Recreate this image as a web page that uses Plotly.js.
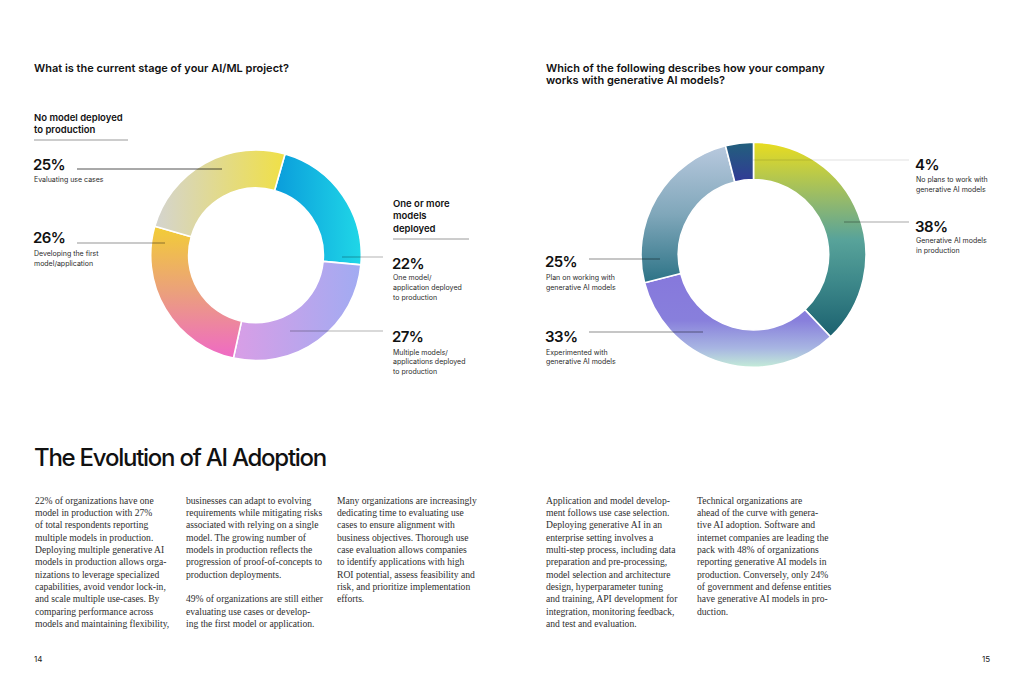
<!DOCTYPE html>
<html><head><meta charset="utf-8">
<script src="https://cdn.plot.ly/plotly-3.0.1.min.js"></script>
<style>html,body{margin:0;padding:0;background:#fff;overflow:hidden}#chart{width:1024px;height:683px}</style>
</head><body><div id="chart"></div>
<script>
// ---- data ----
const stageLabels = ['One model/application deployed to production','Multiple models/applications deployed to production','Developing the first model/application','Evaluating use cases'];
const stageValues = [22, 27, 26, 25];
const stageColors = ['#15bae2', '#bda4ec', '#eca08a', '#e2da8e'];
const genaiLabels = ['Generative AI models in production','Experimented with generative AI models','Plan on working with generative AI models','No plans to work with generative AI models'];
const genaiValues = [38, 33, 25, 4];
const genaiColors = ['#5fa08c', '#9ea6de', '#78a0b4', '#2a4c88'];

const leftTitle = 'What is the current stage of your AI/ML project?';
const rightTitle = ['Which of the following describes how your company', 'works with generative AI models?'];
const pageTitle = 'The Evolution of AI Adoption';

const col1 = ['22% of organizations have one','model in production with 27%','of total respondents reporting','multiple models in production.','Deploying multiple generative AI','models in production allows orga-','nizations to leverage specialized','capabilities, avoid vendor lock-in,','and scale multiple use-cases. By','comparing performance across','models and maintaining flexibility,'];
const col2 = ['businesses can adapt to evolving','requirements while mitigating risks','associated with relying on a single','model. The growing number of','models in production reflects the','progression of proof-of-concepts to','production deployments.','','49% of organizations are still either','evaluating use cases or develop-','ing the first model or application.'];
const col3 = ['Many organizations are increasingly','dedicating time to evaluating use','cases to ensure alignment with','business objectives. Thorough use','case evaluation allows companies','to identify applications with high','ROI potential, assess feasibility and','risk, and prioritize implementation','efforts.'];
const col4 = ['Application and model develop-','ment follows use case selection.','Deploying generative AI in an','enterprise setting involves a','multi-step process, including data','preparation and pre-processing,','model selection and architecture','design, hyperparameter tuning','and training, API development for','integration, monitoring feedback,','and test and evaluation.'];
const col5 = ['Technical organizations are','ahead of the curve with genera-','tive AI adoption. Software and','internet companies are leading the','pack with 48% of organizations','reporting generative AI models in','production. Conversely, only 24%','of government and defense entities','have generative AI models in pro-','duction.'];

// ---- layout helpers ----
const W = 1024, H = 683;
const px = x => x / W, py = y => 1 - y / H;
const SANS = 'Inter, "Noto Sans", sans-serif';
const SERIF = '"Liberation Serif", "DejaVu Serif", serif';
const ann = [];
function T(x, y, text, font, ls) {
  const t = ls ? `<span style="letter-spacing:${ls}px">${text}</span>` : text;
  ann.push({xref:'paper', yref:'paper', x:px(x), y:py(y), xanchor:'left', yanchor:'middle',
    text:t, showarrow:false, borderpad:0, borderwidth:0, font:font});
}
function block(x, y0, dy, lines, font, ls) {
  lines.forEach((l, i) => { if (l) T(x, y0 + i * dy, l, font, ls); });
}
const fTitle = {family:SANS, size:11, color:'#111', weight:600};
const fHead = {family:SANS, size:9.5, color:'#111', weight:600};
const fPct = {family:SANS, size:15, color:'#111', weight:600};
const fSub = {family:SANS, size:7, color:'#2b2b2b', weight:400};
const fBody = {family:SERIF, size:9.6, color:'#2e2e2e'};

const shapes = [];
function L(x0, y0, x1, y1, color, w) {
  shapes.push({type:'line', xref:'paper', yref:'paper', x0:px(x0), y0:py(y0), x1:px(x1), y1:py(y1),
    line:{color:color, width:w || 1}, layer:'above'});
}

// chart titles
T(34, 68, leftTitle, fTitle);
block(546, 68, 12.5, rightTitle, fTitle);

// left chart labels
block(34, 117, 12.5, ['No model deployed', 'to production'], fHead);
L(34, 140, 128, 140, '#9a9a9a', 1);
T(33, 164, stageValues[3] + '%', fPct, -0.6);
T(34, 179.5, 'Evaluating use cases', fSub);
T(33, 238, stageValues[2] + '%', fPct, -0.6);
block(34, 254, 9.8, ['Developing the first', 'model/application'], fSub);
block(393, 203, 12.5, ['One or more', 'models', 'deployed'], fHead);
L(393, 239, 469, 239, '#9a9a9a', 1);
T(392, 263, stageValues[0] + '%', fPct, -0.6);
block(393, 278, 9.8, ['One model/', 'application deployed', 'to production'], fSub);
T(392, 337, stageValues[1] + '%', fPct, -0.6);
block(393, 352, 9.8, ['Multiple models/', 'applications deployed', 'to production'], fSub);

L(77, 169, 222, 169, 'rgba(0,0,0,0.68)', 1);
L(77, 243, 165, 243, 'rgba(0,0,0,0.42)', 1);
L(342, 257, 383, 257, 'rgba(0,0,0,0.2)', 1.3);
L(290, 331, 383, 331, 'rgba(0,0,0,0.2)', 1.3);

// right chart labels
T(915, 164, genaiValues[3] + '%', fPct, -0.6);
block(916, 179.5, 9.8, ['No plans to work with', 'generative AI models'], fSub);
T(915, 226, genaiValues[0] + '%', fPct, -0.6);
block(916, 241, 9.8, ['Generative AI models', 'in production'], fSub);
T(545, 262, genaiValues[2] + '%', fPct, -0.6);
block(546, 278, 9.8, ['Plan on working with', 'generative AI models'], fSub);
T(545, 337, genaiValues[1] + '%', fPct, -0.6);
block(546, 352, 9.8, ['Experimented with', 'generative AI models'], fSub);

L(753, 160, 909, 160, 'rgba(0,0,0,0.12)', 1);
L(844, 222, 909, 222, 'rgba(0,0,0,0.35)', 1);
L(589, 259, 660, 259, 'rgba(0,0,0,0.45)', 1);
L(589, 332, 703, 332, 'rgba(0,0,0,0.45)', 1);

// page heading & body
T(34, 457, pageTitle, {family:SANS, size:24, color:'#111', weight:500}, -1.25);
const dy = 12.35, yb = 500;
block(35, yb, dy, col1, fBody);
block(186, yb, dy, col2, fBody);
block(337, yb, dy, col3, fBody);
block(546, yb, dy, col4, fBody);
block(697, yb, dy, col5, fBody);
T(34, 659, '14', {family:SANS, size:8, color:'#222'});
ann.push({xref:'paper', yref:'paper', x:px(990), y:py(659), xanchor:'right', yanchor:'middle', text:'15',
  showarrow:false, borderpad:0, borderwidth:0, font:{family:SANS, size:8, color:'#222'}});

const data = [
  {type:'pie', labels:stageLabels, values:stageValues, hole:0.64, sort:false, direction:'clockwise', rotation:16,
   textinfo:'none', hoverinfo:'none', showlegend:false,
   marker:{colors:stageColors, line:{color:'#ffffff', width:1.6}},
   domain:{x:[px(150.7), px(361.3)], y:[py(360.6), py(150)]}},
  {type:'pie', labels:genaiLabels, values:genaiValues, hole:0.668, sort:false, direction:'clockwise', rotation:0,
   textinfo:'none', hoverinfo:'none', showlegend:false,
   marker:{colors:genaiColors, line:{color:'#ffffff', width:1.6}},
   domain:{x:[px(641), px(866)], y:[py(367.3), py(142.3)]}}
];
const layout = {width:W, height:H, margin:{l:0, r:0, t:0, b:0}, paper_bgcolor:'#fff', plot_bgcolor:'#fff',
  annotations:ann, shapes:shapes, showlegend:false};

// gradient styling of the slices drawn by Plotly
const grads = [
  [ {dir:'h', stops:[[0,'#0a9cdb'],[1,'#20d7e7']]},
    {dir:'h', stops:[[0,'#d99ee6'],[1,'#a1abf2']]},
    {dir:'v', stops:[[0,'#f2cd36'],[0.5,'#eba07c'],[1,'#ef69c6']]},
    {dir:'h', stops:[[0,'#d4d4d0'],[1,'#f0e046']]} ],
  [ {dir:'v', stops:[[0,'#e9dd1f'],[0.3,'#93b96c'],[0.5,'#58a39a'],[0.72,'#3d888a'],[1,'#1b616f']]},
    {dir:'v', stops:[[0,'#8678dc'],[0.5,'#887fdc'],[0.8,'#a8b6e2'],[1,'#c4ecd8']]},
    {dir:'v', stops:[[0,'#b8c9de'],[0.5,'#80a7ba'],[1,'#2c7386']]},
    {dir:'v', stops:[[0,'#22607c'],[1,'#313a96']]} ]
];
function applyGradients() {
  const gd = document.getElementById('chart');
  const svg = gd.querySelector('svg.main-svg');
  if (!svg) return;
  const NS = 'http://www.w3.org/2000/svg';
  let defs = svg.querySelector('defs');
  if (!defs) { defs = document.createElementNS(NS, 'defs'); svg.insertBefore(defs, svg.firstChild); }
  const traces = gd.querySelectorAll('.pielayer .trace');
  traces.forEach((tr, ti) => {
    tr.querySelectorAll('.slice path.surface').forEach((p, si) => {
      const g = grads[ti] && grads[ti][si];
      if (!g) return;
      const id = `grad-${ti}-${si}`;
      if (!document.getElementById(id)) {
        const lg = document.createElementNS(NS, 'linearGradient');
        lg.setAttribute('id', id);
        lg.setAttribute('x1', '0'); lg.setAttribute('y1', '0');
        lg.setAttribute('x2', g.dir === 'h' ? '1' : '0'); lg.setAttribute('y2', g.dir === 'h' ? '0' : '1');
        g.stops.forEach(s => {
          const st = document.createElementNS(NS, 'stop');
          st.setAttribute('offset', s[0]); st.setAttribute('stop-color', s[1]);
          lg.appendChild(st);
        });
        defs.appendChild(lg);
      }
      p.style.fill = `url(#${id})`;
    });
  });
}
Plotly.newPlot('chart', data, layout, {staticPlot:true, displayModeBar:false}).then(gd => {
  applyGradients();
  gd.on && gd.on('plotly_afterplot', applyGradients);
});
</script></body></html>
